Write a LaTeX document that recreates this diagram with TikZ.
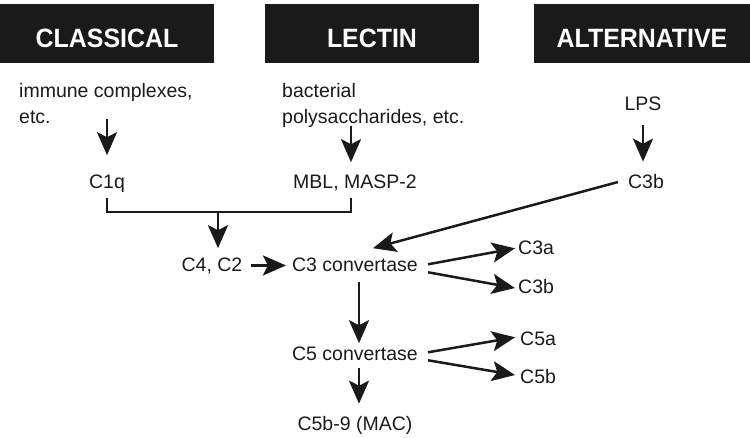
\documentclass[tikz,border=0pt]{standalone}
\usepackage{fontspec}
\setmainfont{Liberation Sans}
\newfontfamily\hdrfont[FakeStretch=0.94]{Liberation Sans}
\usetikzlibrary{arrows.meta,calc}
\definecolor{ink}{HTML}{1A1A1A}
\definecolor{hdrfill}{HTML}{1A1A1A}
\begin{document}
\begin{tikzpicture}[x=1pt,y=-1pt,
  lbl/.style={inner sep=0pt, anchor=base, text=ink, font=\fontsize{19.5}{26}\selectfont},
  hdr/.style={fill=hdrfill, text=white, inner sep=0pt, minimum height=59pt,
    text height=27pt, text depth=0pt, font=\hdrfont\bfseries\fontsize{26.5}{30}\selectfont},
  arr/.style={draw=ink, line width=2.5pt, -{Stealth[length=23pt,width=20pt,inset=5pt]}},
  ln/.style={draw=ink, line width=2.5pt}]
\useasboundingbox (0,0) rectangle (750,437);
% headers
\node[hdr, minimum width=214pt] (classical) at (107,33.5) {CLASSICAL};
\node[hdr, minimum width=214pt] (lectin) at (372,33.5) {LECTIN};
\node[hdr, minimum width=216pt] (alternative) at (642,33.5) {ALTERNATIVE};
% labels
\node[lbl, anchor=north west, align=left] (imm) at (19,83) {immune complexes,\\etc.};
\node[lbl, anchor=north west, align=left] (bac) at (282,83) {bacterial\\polysaccharides, etc.};
\node[lbl] (lps) at (643,110) {LPS};
\node[lbl] (c1q) at (107,188) {C1q};
\node[lbl] (mbl) at (355,188) {MBL, MASP-2};
\node[lbl] (c3bt) at (646,188) {C3b};
\node[lbl] (c4) at (212,271) {C4, C2};
\node[lbl] (c3) at (355,271) {C3 convertase};
\node[lbl, anchor=base west] (c3a) at (518,254) {C3a};
\node[lbl, anchor=base west] (c3b) at (518,293) {C3b};
\node[lbl] (c5) at (355,360) {C5 convertase};
\node[lbl, anchor=base west] (c5a) at (520,345) {C5a};
\node[lbl, anchor=base west] (c5b) at (520,383) {C5b};
\node[lbl] (mac) at (355,430) {C5b-9 (MAC)};
\coordinate (join) at (218,212);
% connectors
\draw[arr, shorten >=19pt] ($(imm.south -| c1q.north)+(0,-5)$) -- (c1q.north);
\draw[arr, shorten >=12pt] ($(bac.south -| mbl.north)+(-4,-2)$) -- ($(mbl.north)+(-4,0)$);
\draw[arr, shorten <=15pt, shorten >=12pt] (lps.south) -- (lps.south |- c3bt.north);
\draw[ln] ($(c1q.south)+(0,6)$) |- (join) -| ($(mbl.south)+(-4,7)$);
\draw[arr, shorten >=9pt] (join) -- (join |- c4.north);
\draw[arr, shorten <=8pt, shorten >=6pt] (c4.east) -- (c4.east -| c3.west);
\draw[arr] ($(c3bt.west)+(-10,1)$) -- ($(c3.north)+(18,-9)$);
\draw[arr] ($(c3.east)+(10,0)$) -- ($(c3a.west)+(-3,1)$);
\draw[arr] ($(c3.east)+(10,8)$) -- ($(c3b.west)+(-3,2)$);
\draw[arr] ($(c3.south)+(4,11)$) -- ($(c5.north)+(4,-3)$);
\draw[arr] ($(c5.east)+(10,-1)$) -- ($(c5a.west)+(-5,-1)$);
\draw[arr] ($(c5.east)+(10,7)$) -- ($(c5b.west)+(-5,-1)$);
\draw[arr, shorten >=12pt] ($(c5.south)+(4,8)$) -- ($(mac.north)+(4,0)$);
\end{tikzpicture}
\end{document}
